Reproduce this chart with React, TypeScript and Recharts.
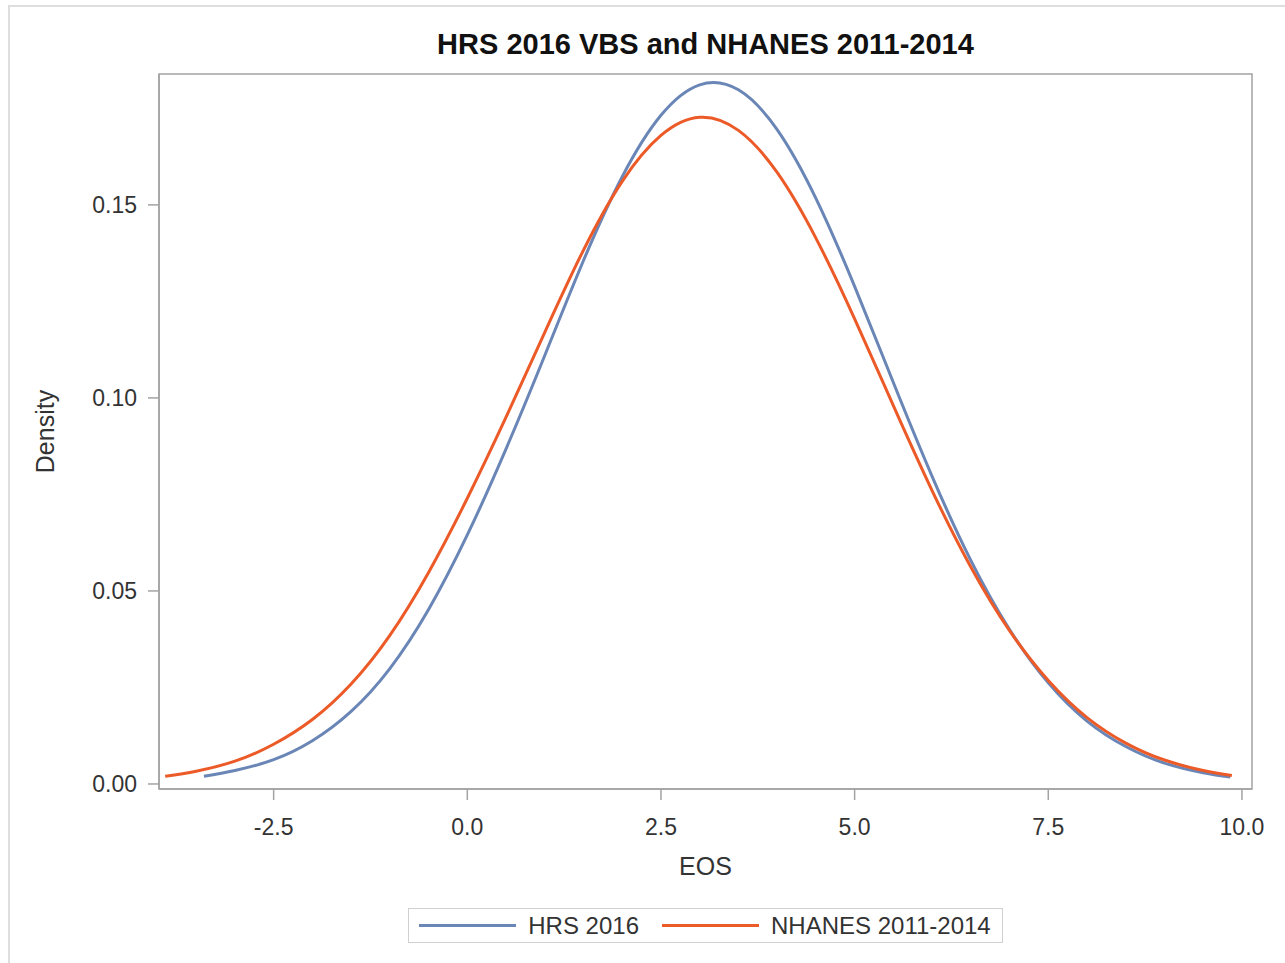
import { LineChart, Line, XAxis, YAxis, Legend, ReferenceArea } from "recharts";

const hrsEos = [
  -3.4, -3, -2.5, -2, -1.5, -1, -0.5, 0, 0.5, 1, 1.5, 2, 2.5, 3, 3.5, 4,
  4.5, 5, 5.5, 6, 6.5, 7, 7.5, 8, 8.5, 9, 9.5, 9.85,
];
const hrsDensity = [
  0.002, 0.0035, 0.0063, 0.0112, 0.0188, 0.0299, 0.0452, 0.0645, 0.0868,
  0.111, 0.1356, 0.1573, 0.1732, 0.1811, 0.1798, 0.1695, 0.1517,
  0.1289, 0.104, 0.0797, 0.0579, 0.04, 0.0262, 0.0163, 0.0097, 0.0054,
  0.0029, 0.0018,
];

const nhanesEos = [
  -3.9, -3.5, -3, -2.5, -2, -1.5, -1, -0.5, 0, 0.5, 1, 1.5, 2, 2.5, 3, 3.5, 4,
  4.5, 5, 5.5, 6, 6.5, 7, 7.5, 8, 8.5, 9, 9.5, 9.87,
];
const nhanesDensity = [
  0.002, 0.0033, 0.0059, 0.0103, 0.0167, 0.0259, 0.0385, 0.0548, 0.074,
  0.095, 0.117, 0.1383, 0.1561, 0.168, 0.1727, 0.1693, 0.1584, 0.1414,
  0.1205, 0.098, 0.076, 0.0562, 0.0397, 0.0268, 0.0172, 0.0106, 0.0062,
  0.0035, 0.0022,
];

const xDomain = [-3.98, 10.13];
const yDomain = [-0.0013, 0.1839];
const xTicks = [-2.5, 0, 2.5, 5, 7.5, 10];
const yTicks = [0, 0.05, 0.1, 0.15];

const seriesNames = ["HRS 2016", "NHANES 2011-2014"];
const seriesColors = ["#6a86b6", "#ec5a28"];

const hrsData = hrsEos.map((x, i) => ({ eos: x, density: hrsDensity[i] }));
const nhanesData = nhanesEos.map((x, i) => ({ eos: x, density: nhanesDensity[i] }));

const FONT = '"Liberation Sans", Arial, sans-serif';
const AXIS = "#a3a3a3";

const renderLegend = () => (
  <div style={{ display: "flex", justifyContent: "center" }}>
    <div
      style={{
        display: "flex",
        alignItems: "center",
        border: "1px solid #d0d0d0",
        height: 33,
        padding: "0 11px 0 10px",
        fontFamily: FONT,
        fontSize: 24,
        color: "#333",
      }}
    >
      {seriesNames.map((name, i) => (
        <div key={name} style={{ display: "flex", alignItems: "center", marginLeft: i ? 23 : 0 }}>
          <span style={{ width: 97, height: 3, background: seriesColors[i], marginRight: 12 }} />
          <span>{name}</span>
        </div>
      ))}
    </div>
  </div>
);

export default function App() {
  return (
    <div
      style={{
        position: "absolute",
        left: 0,
        top: 0,
        width: 1285,
        height: 963,
        overflow: "hidden",
        background: "#fff",
      }}
    >
      <div
        style={{
          position: "absolute",
          left: 8,
          top: 5,
          width: 1400,
          height: 1100,
          borderTop: "2px solid #dedede",
          borderLeft: "2px solid #dedede",
        }}
      />
      <div
        style={{
          position: "absolute",
          left: 159,
          top: 28,
          width: 1093,
          textAlign: "center",
          fontFamily: FONT,
          fontWeight: "bold",
          fontSize: 29,
          color: "#111",
        }}
      >
        HRS 2016 VBS and NHANES 2011-2014
      </div>
      <div style={{ position: "absolute", left: 0, top: 0 }}>
        <LineChart
          width={1285}
          height={963}
          margin={{ top: 74, right: 33, left: 35, bottom: 20 }}
          style={{ fontFamily: FONT }}
        >
          <XAxis
            dataKey="eos"
            type="number"
            domain={xDomain}
            allowDataOverflow
            ticks={xTicks}
            tickFormatter={(v: number) => v.toFixed(1)}
            height={119}
            tickSize={11}
            tickMargin={19}
            stroke={AXIS}
            strokeWidth={1.5}
            tick={{ fill: "#333", fontSize: 23 }}
            label={{
              value: "EOS",
              position: "insideTop",
              offset: 68,
              fill: "#333",
              fontSize: 25,
            }}
          />
          <YAxis
            type="number"
            domain={yDomain}
            allowDataOverflow
            ticks={yTicks}
            tickFormatter={(v: number) => v.toFixed(2)}
            width={124}
            tickSize={11}
            tickMargin={11}
            stroke={AXIS}
            strokeWidth={1.5}
            tick={{ fill: "#333", fontSize: 23 }}
            label={{
              value: "Density",
              angle: -90,
              position: "insideLeft",
              offset: 10,
              fill: "#333",
              fontSize: 25,
              style: { textAnchor: "middle" },
            }}
          />
          <ReferenceArea
            x1={xDomain[0]}
            x2={xDomain[1]}
            y1={yDomain[0]}
            y2={yDomain[1]}
            fill="none"
            fillOpacity={0}
            stroke={AXIS}
            strokeWidth={1.5}
            ifOverflow="visible"
          />
          <Legend
            verticalAlign="bottom"
            content={renderLegend}
            wrapperStyle={{ left: 159, width: 1093 }}
          />
          <Line
            data={hrsData}
            dataKey="density"
            name={seriesNames[0]}
            type="natural"
            stroke={seriesColors[0]}
            strokeWidth={3}
            dot={false}
            isAnimationActive={false}
          />
          <Line
            data={nhanesData}
            dataKey="density"
            name={seriesNames[1]}
            type="natural"
            stroke={seriesColors[1]}
            strokeWidth={3}
            dot={false}
            isAnimationActive={false}
          />
        </LineChart>
      </div>
    </div>
  );
}
